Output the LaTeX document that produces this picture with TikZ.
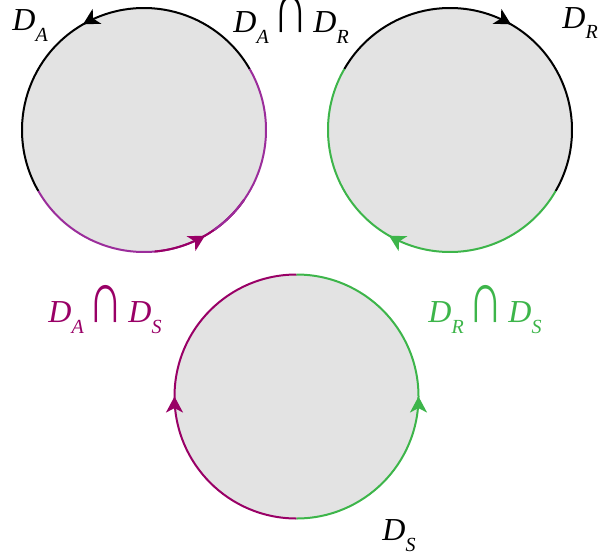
\documentclass[tikz,border=0pt]{standalone}
\usepackage{fontspec}
\setmainfont{Liberation Serif}
\usepackage{tikz}
\usetikzlibrary{arrows.meta,decorations.markings}

\definecolor{diskgray}{RGB}{227,227,227}
\definecolor{purp}{RGB}{155,45,155}
\definecolor{mag}{RGB}{153,0,102}
\definecolor{grn}{RGB}{61,181,74}

\newcommand{\Dsub}[1]{\textit{D}\raisebox{-5.5pt}{\fontsize{10}{10}\selectfont\textit{#1}}}
\newcommand{\capsym}{\hspace{2.5pt}\scalebox{1.5}[2.3]{\upshape ∩}\hspace{2.5pt}}

\begin{document}
\begin{tikzpicture}[x=0.5pt, y=0.5pt,
	every node/.style={font=\fontsize{16}{19}\selectfont, inner sep=0pt, anchor=base west},
	disk/.style={fill=diskgray},
	rim/.style={line width=1pt},
	midarrow/.style={rim, postaction={decorate}, decoration={markings,
		mark=at position 0.5 with {\arrow{Stealth[length=8pt,width=8.5pt,inset=2.2pt]}}}}]
	\useasboundingbox (0,0) rectangle (599,559);
	\coordinate (cA) at (144,429);
	\coordinate (cR) at (450,429);
	\coordinate (cS) at (296.5,162.5);
	\foreach \c in {cA,cR,cS} {\fill[disk] (\c) circle[radius=61pt];}
	
	\draw[midarrow, black] ([shift={(30:61pt)}]cA) arc[start angle=30, end angle=210, radius=61pt];
	\draw[rim, purp] ([shift={(-150:61pt)}]cA) arc[start angle=-150, end angle=30, radius=61pt];
	\draw[midarrow, mag] ([shift={(-85:61pt)}]cA) arc[start angle=-85, end angle=-35, radius=61pt];
	\draw[rim, purp] ([shift={(-55:61pt)}]cA) arc[start angle=-55, end angle=-35, radius=61pt];
	
	\draw[midarrow, black] ([shift={(150:61pt)}]cR) arc[start angle=150, end angle=-30, radius=61pt];
	\draw[midarrow, grn] ([shift={(330:61pt)}]cR) arc[start angle=330, end angle=150, radius=61pt];
	
	\draw[midarrow, mag] ([shift={(270:61pt)}]cS) arc[start angle=270, end angle=90, radius=61pt];
	\draw[midarrow, grn] ([shift={(-90:61pt)}]cS) arc[start angle=-90, end angle=90, radius=61pt];
	
	\node (lblA) at (12,529) {\Dsub{A}};
	\node (lblAR) at (233,527) {\Dsub{A}\capsym\Dsub{R}};
	\node (lblR) at (562,531) {\Dsub{R}};
	\node[mag] (lblAS) at (48,237) {\Dsub{A}\capsym\Dsub{S}};
	\node[grn] (lblRS) at (428,237) {\Dsub{R}\capsym\Dsub{S}};
	\node (lblS) at (382,19) {\Dsub{S}};
\end{tikzpicture}
\end{document}
